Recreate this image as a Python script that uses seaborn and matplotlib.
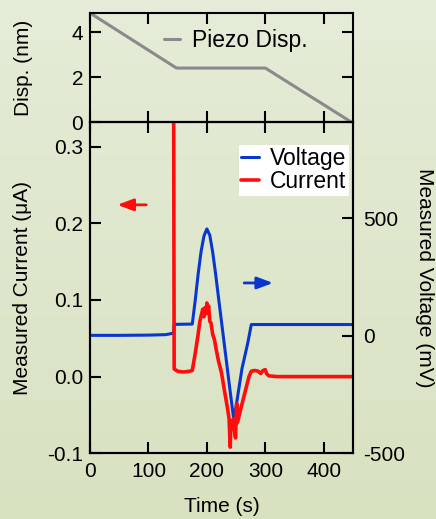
import numpy as np
import pandas as pd
import matplotlib
matplotlib.use("Agg")
import matplotlib.pyplot as plt
import seaborn as sns
from matplotlib.colors import LinearSegmentedColormap
from matplotlib.lines import Line2D

# ---------------- data ----------------
piezo_t = [0, 148, 300, 447]
piezo_d = [4.85, 2.4, 2.4, 0.0]

current_t = [143, 144, 150, 160, 170, 175, 180, 185, 188, 191, 193, 195, 197, 199, 200,
             201, 203, 205, 207, 210, 213, 216, 220, 225, 230, 235, 238, 239, 240, 241,
             243, 245, 247, 249, 250, 251, 252, 254, 257, 262, 267, 272, 276, 282, 288,
             292, 296, 300, 302, 306, 320, 360, 400, 450]
current_i = [0.40, 0.010, 0.007, 0.006, 0.007, 0.008, 0.030, 0.055, 0.072, 0.082, 0.088,
             0.078, 0.090, 0.082, 0.096, 0.085, 0.092, 0.072, 0.070, 0.055, 0.048, 0.035,
             0.020, 0.005, -0.018, -0.040, -0.055, -0.075, -0.092, -0.060, -0.065, -0.055,
             -0.070, -0.080, -0.055, -0.035, -0.060, -0.055, -0.045, -0.030, -0.015, 0.000,
             0.007, 0.008, 0.007, 0.004, 0.008, 0.009, 0.004, 0.001, 0.000, 0.000, 0.000, 0.000]

voltage_t = [0, 50, 100, 130, 140, 143, 144, 150, 175, 180, 185, 190, 195, 200, 205, 210,
             215, 220, 230, 240, 246, 250, 260, 270, 276, 300, 450]
voltage_v = [2, 2, 3, 5, 10, 12, 48, 49, 50, 150, 262, 358, 425, 455, 428, 355, 262, 160,
             -40, -240, -357, -300, -140, -30, 48, 48, 48]

x_ticks = [0, 100, 200, 300, 400]
disp_ticks = [0, 2, 4]
cur_ticks = [-0.1, 0.0, 0.1, 0.2, 0.3]
cur_labels = ["-0.1", "0.0", "0.1", "0.2", "0.3"]
volt_ticks = [-500, 0, 500]

# ---------------- style ----------------
sns.set_theme(style="ticks")
plt.rcParams["font.family"] = ["Liberation Sans", "DejaVu Sans"]
plt.rcParams["axes.unicode_minus"] = False
plt.rcParams["text.color"] = "black"
plt.rcParams["axes.labelcolor"] = "black"
plt.rcParams["xtick.color"] = "black"
plt.rcParams["ytick.color"] = "black"
FS = 15
LFS = 16.5

fig = plt.figure(figsize=(4.36, 5.19), dpi=100)

# background gradient
bg = fig.add_axes([0, 0, 1, 1], zorder=-10)
cmap = LinearSegmentedColormap.from_list("bg", ["#d8e2c1", "#e5ecd8"])
grad = np.linspace(0, 1, 256).reshape(-1, 1)
bg.imshow(grad, cmap=cmap, aspect="auto", origin="lower", extent=[0, 1, 0, 1])
bg.axis("off")

L, W = 90 / 436, 263 / 436
ax_top = fig.add_axes([L, 0.7649, W, 0.2101])
ax = fig.add_axes([L, 0.1266, W, 0.6383])
ax2 = ax.twinx()
ax.set_zorder(ax2.get_zorder() + 1)

for a in (ax_top, ax, ax2):
    a.set_facecolor("none")
    for s in a.spines.values():
        s.set_color("black")
        s.set_linewidth(1.5)

tick_kw = dict(direction="in", length=8, width=1.5, colors="black", labelsize=FS)

# ---------------- top panel ----------------
df_p = pd.DataFrame({"t": piezo_t, "d": piezo_d})
sns.lineplot(data=df_p, x="t", y="d", ax=ax_top, color="#8a8a8a", lw=2.2,
             label="Piezo Disp.")
ax_top.set_xlim(0, 450)
ax_top.set_ylim(0, 4.85)
ax_top.set_xticks(x_ticks)
ax_top.set_yticks(disp_ticks)
ax_top.tick_params(axis="both", which="both", top=True, right=True, bottom=True,
                   labelbottom=False, **tick_kw)
ax_top.tick_params(axis="y", pad=5)
ax_top.set_xlabel("")
ax_top.set_ylabel("Disp. (nm)", fontsize=FS)
ax_top.yaxis.set_label_coords(-0.217, 0.5)
leg1 = ax_top.legend(loc="center left", bbox_to_anchor=(0.28, 0.75), frameon=False,
                     fontsize=LFS, handlelength=0.7, handletextpad=0.55,
                     borderaxespad=0, borderpad=0)

# ---------------- bottom panel ----------------
df_c = pd.DataFrame({"t": current_t, "i": current_i})
df_v = pd.DataFrame({"t": voltage_t, "v": voltage_v})
sns.lineplot(data=df_v, x="t", y="v", ax=ax2, color="#0a36d0", lw=2.2)
sns.lineplot(data=df_c, x="t", y="i", ax=ax, color="#ff0d0d", lw=2.6)

ax.set_xlim(0, 450)
ax.set_ylim(-0.1, 0.332)
ax2.set_ylim(-500, 910)
ax.set_xticks(x_ticks)
ax.set_yticks(cur_ticks)
ax.set_yticklabels(cur_labels)
ax2.set_yticks(volt_ticks)
ax.tick_params(axis="both", top=True, right=False, **tick_kw)
ax.tick_params(axis="x", pad=6)
ax.tick_params(axis="y", pad=5)
ax2.tick_params(axis="y", pad=7, **tick_kw)
ax.set_xlabel("Time (s)", fontsize=FS, labelpad=12)
ax.set_ylabel("Measured Current (\u03bcA)", fontsize=FS)
ax.yaxis.set_label_coords(-0.22, 0.5)
ax2.set_ylabel("Measured Voltage (mV)", fontsize=FS, rotation=-90, va="center")
ax2.yaxis.set_label_coords(1.27, 0.531)

# legend (Voltage, Current)
handles = [Line2D([], [], color="#0a36d0", lw=2.2), Line2D([], [], color="#ff0d0d", lw=2.6)]
leg = ax.legend(handles, ["Voltage", "Current"], loc="upper left",
                bbox_to_anchor=(0.567, 0.93), fontsize=LFS, frameon=True,
                handlelength=0.75, handletextpad=0.5, borderpad=0.1,
                labelspacing=0.0, borderaxespad=0, fancybox=False)
leg.get_frame().set_facecolor("white")
leg.get_frame().set_edgecolor("none")
leg.get_frame().set_alpha(1)

# arrows
ax.annotate("", xy=(42, 0.224), xytext=(101, 0.224),
            arrowprops=dict(arrowstyle="-|>,head_length=0.8,head_width=0.3",
                            color="#ff0d0d", lw=2))
ax2.annotate("", xy=(318, 225), xytext=(259, 225),
             arrowprops=dict(arrowstyle="-|>,head_length=0.8,head_width=0.3",
                             color="#0a36d0", lw=2))

fig.savefig("out.png", dpi=100)
